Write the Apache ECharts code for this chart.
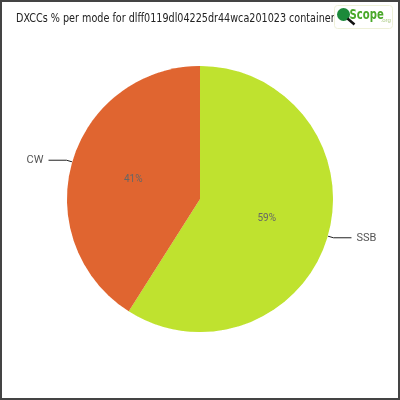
<!DOCTYPE html>
<html>
<head>
<meta charset="utf-8">
<script src="https://cdn.jsdelivr.net/npm/echarts@6/dist/echarts.min.js"></script>
<style>
  html, body { margin: 0; padding: 0; background: #fff; }
  #chart { width: 400px; height: 400px; box-sizing: border-box; border: 2px solid #444; }
</style>
</head>
<body>
<div id="chart"></div>
<script>
const modes = ['SSB', 'CW'];
const dxccShare = [59, 41];
const modeColors = ['#bfe22f', '#e06530'];
const titleText = 'DXCCs % per mode for dlff0119dl04225dr44wca201023 containers';

const chart = echarts.init(document.getElementById('chart'));
const fontFamily = 'Roboto, sans-serif';

const pieData = modes.map((name, i) => ({
  name,
  value: dxccShare[i],
  itemStyle: { color: modeColors[i] }
}));

chart.setOption({
  animation: false,
  graphic: [
    {
      // title, squeezed horizontally to match the narrow original face
      type: 'text',
      left: 14,
      top: 10,
      scaleX: 0.74,
      style: { text: titleText, fill: '#222', font: '13px "DejaVu Sans", sans-serif' }
    },
    {
      type: 'group',
      left: 332,
      top: 3,
      z: 100,
      children: [
        { type: 'rect', shape: { x: 0, y: 0, width: 58, height: 23, r: 3 },
          style: { fill: '#fff', stroke: '#eef0d8', lineWidth: 1 } },
        { type: 'circle', shape: { cx: 9, cy: 9, r: 6.5 }, style: { fill: '#1c8a3a' } },
        { type: 'line', shape: { x1: 13, y1: 13, x2: 20, y2: 19 },
          style: { stroke: '#111', lineWidth: 2.5 } },
        { type: 'text', x: 15, y: 3, scaleX: 0.72,
          style: { text: 'Scope', fill: '#4aa82a', font: 'bold 14px "DejaVu Sans", sans-serif' } },
        { type: 'text', x: 46, y: 12,
          style: { text: '.org', fill: '#a8c880', font: '6px sans-serif' } }
      ]
    }
  ],
  series: [
    {
      type: 'pie',
      center: [198, 197],
      radius: 133,
      startAngle: 90,
      clockwise: true,
      data: pieData,
      itemStyle: { borderColor: '#fff', borderWidth: 1 },
      label: {
        position: 'outside',
        formatter: '{b}',
        fontFamily, fontSize: 11, color: '#555'
      },
      labelLine: {
        show: true, length: 6, length2: 18,
        lineStyle: { color: '#222', width: 1 }
      },
      silent: true
    },
    {
      type: 'pie',
      center: [198, 197],
      radius: 133,
      startAngle: 90,
      clockwise: true,
      data: pieData,
      itemStyle: { color: 'transparent' },
      label: {
        position: 'inside',
        formatter: '{c}%',
        fontFamily, fontSize: 10, color: '#666'
      },
      labelLine: { show: false },
      silent: true
    }
  ]
});
</script>
</body>
</html>
